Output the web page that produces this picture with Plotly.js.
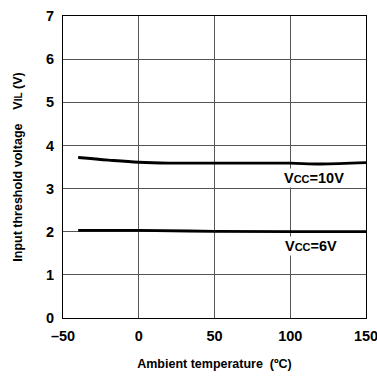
<!DOCTYPE html>
<html><head><meta charset="utf-8">
<script src="https://cdn.plot.ly/plotly-3.0.1.min.js"></script>
<style>html,body{margin:0;padding:0;background:#fff}#g{width:377px;height:377px}</style>
</head><body><div id="g"></div>
<script>
const temp10 = [-40, -20, 0, 20, 50, 80, 100, 120, 150];
const vil10 = [3.72, 3.66, 3.61, 3.59, 3.59, 3.59, 3.59, 3.57, 3.60];
const temp6 = [-40, 0, 50, 100, 150];
const vil6 = [2.03, 2.03, 2.01, 2.00, 2.00];
const xTicks = [-50, 0, 50, 100, 150];
const xTickText = ['–50', '0', '50', '100', '150'];
const yTicks = [0, 1, 2, 3, 4, 5, 6, 7];
const labels = ['V<span style="font-size:11px">CC</span>=10V', 'V<span style="font-size:11px">CC</span>=6V'];
const labelX = [116, 113.5];
const labelY = [3.25, 1.66];

const font = 'Liberation Sans, Arial, sans-serif';
const traces = [
  {x: temp10, y: vil10, mode: 'lines', line: {color: '#000', width: 2.8, shape: 'spline'}, hoverinfo: 'none'},
  {x: temp6, y: vil6, mode: 'lines', line: {color: '#000', width: 2.8, shape: 'spline'}, hoverinfo: 'none'}
];
const layout = {
  width: 377, height: 377,
  margin: {l: 63, r: 11, t: 16, b: 59},
  showlegend: false,
  paper_bgcolor: '#fff', plot_bgcolor: '#fff',
  font: {family: font, color: '#000', size: 14},
  xaxis: {
    range: [-50, 150], tickvals: xTicks, ticktext: xTickText,
    showgrid: true, gridcolor: '#555', gridwidth: 1,
    zeroline: false, showline: true, linecolor: '#000', linewidth: 1, mirror: true,
    ticks: '', ticklen: 0, ticklabelstandoff: 5, ticklabeloverflow: 'allow',
    tickfont: {size: 14.5, family: font, weight: 'bold'},
    title: {text: 'Ambient temperature  (ºC)', font: {size: 12.5, family: font, weight: 'bold'}, standoff: 15}
  },
  yaxis: {
    range: [0, 7], tickvals: yTicks,
    showgrid: true, gridcolor: '#555', gridwidth: 1,
    zeroline: false, showline: true, linecolor: '#000', linewidth: 1, mirror: true,
    ticks: '', ticklen: 0, ticklabelstandoff: 5, ticklabeloverflow: 'allow',
    tickfont: {size: 14.5, family: font, weight: 'bold'},
    title: {text: 'Input threshold voltage    V<span style="font-size:10px">IL</span> (V)', font: {size: 12.5, family: font, weight: 'bold'}, standoff: 20}
  },
  annotations: labels.map((t, i) => ({
    x: labelX[i], y: labelY[i], xref: 'x', yref: 'y', text: t, showarrow: false,
    bgcolor: '#fff', font: {size: 14.5, family: font, color: '#000', weight: 'bold'}, borderpad: 1
  }))
};
Plotly.newPlot('g', traces, layout, {displayModeBar: false, staticPlot: true});
</script></body></html>
